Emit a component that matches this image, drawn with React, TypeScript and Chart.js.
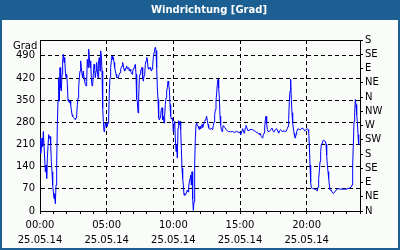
import React, { useEffect, useRef } from "react";
import { Chart, registerables } from "chart.js";

Chart.register(...registerables);

const TITLE = "Windrichtung [Grad]";
const UNIT = "Grad";
const TIME_LABELS = ["00:00", "05:00", "10:00", "15:00", "20:00"];
const DATE_LABEL = "25.05.14";
const COMPASS = ["N", "NE", "E", "SE", "S", "SW", "W", "NW", "N", "NE", "E", "SE", "S"];

// hours since 00:00 on 25.05.14
const HOURS = [
  0.0, 0.05, 0.1, 0.15, 0.2, 0.25, 0.3, 0.4, 0.45, 0.5, 0.55, 0.65, 0.7, 0.75, 0.8, 0.85, 0.9, 0.95,
  1.0, 1.05, 1.1, 1.15, 1.2, 1.25, 1.3, 1.35, 1.4, 1.45, 1.5, 1.55, 1.6, 1.65, 1.7, 1.75, 1.8, 1.85,
  1.9, 1.95, 2.0, 2.05, 2.1, 2.15, 2.2, 2.25, 2.3, 2.35, 2.4, 2.45, 2.5, 2.6, 2.65, 2.7, 2.75, 2.8,
  2.85, 2.9, 2.95, 3.0, 3.05, 3.1, 3.15, 3.2, 3.25, 3.3, 3.35, 3.4, 3.45, 3.5, 3.55, 3.6, 3.65, 3.7,
  3.75, 3.8, 3.85, 3.9, 3.95, 4.0, 4.05, 4.1, 4.15, 4.2, 4.25, 4.3, 4.35, 4.4, 4.45, 4.5, 4.55, 4.6,
  4.65, 4.7, 4.75, 4.8, 4.85, 4.9, 4.95, 5.0, 5.05, 5.1, 5.15, 5.2, 5.25, 5.3, 5.35, 5.4, 5.45, 5.5,
  5.55, 5.6, 5.65, 5.7, 5.75, 5.85, 5.9, 5.95, 6.0, 6.05, 6.1, 6.15, 6.2, 6.25, 6.3, 6.35, 6.45, 6.5,
  6.55, 6.65, 6.7, 6.75, 6.8, 6.85, 6.9, 6.95, 7.0, 7.05, 7.1, 7.15, 7.2, 7.25, 7.3, 7.35, 7.4, 7.45,
  7.5, 7.55, 7.6, 7.65, 7.7, 7.75, 7.8, 7.85, 7.9, 7.95, 8.0, 8.05, 8.1, 8.15, 8.25, 8.3, 8.35, 8.4,
  8.45, 8.5, 8.55, 8.6, 8.65, 8.7, 8.75, 8.8, 8.85, 8.9, 8.95, 9.0, 9.05, 9.1, 9.15, 9.2, 9.25, 9.3,
  9.35, 9.4, 9.45, 9.5, 9.55, 9.6, 9.65, 9.7, 9.75, 9.8, 9.85, 9.9, 9.95, 10.0, 10.05, 10.1, 10.15,
  10.2, 10.25, 10.3, 10.35, 10.4, 10.45, 10.5, 10.55, 10.6, 10.65, 10.7, 10.75, 10.8, 10.85, 10.9,
  11.0, 11.05, 11.1, 11.15, 11.2, 11.25, 11.3, 11.35, 11.4, 11.45, 11.5, 11.55, 11.6, 11.65, 11.7,
  11.75, 11.8, 11.85, 11.9, 11.95, 12.0, 12.05, 12.1, 12.15, 12.2, 12.25, 12.3, 12.35, 12.4, 12.45,
  12.5, 12.55, 12.6, 12.65, 12.75, 12.85, 12.95, 13.0, 13.05, 13.1, 13.15, 13.2, 13.25, 13.3, 13.35,
  13.4, 13.45, 13.5, 13.55, 13.6, 13.65, 13.7, 13.75, 13.85, 13.95, 14.05, 14.15, 14.3, 14.45, 14.6,
  14.75, 14.85, 15.0, 15.05, 15.1, 15.2, 15.3, 15.35, 15.4, 15.45, 15.5, 15.6, 15.75, 15.95, 16.15,
  16.35, 16.45, 16.5, 16.6, 16.7, 16.75, 16.8, 16.85, 16.9, 16.95, 17.0, 17.05, 17.1, 17.2, 17.3,
  17.4, 17.5, 17.55, 17.65, 17.75, 17.85, 17.9, 17.95, 18.05, 18.15, 18.3, 18.45, 18.55, 18.6, 18.65,
  18.7, 18.75, 18.8, 18.85, 18.9, 18.95, 19.0, 19.05, 19.1, 19.15, 19.2, 19.25, 19.35, 19.45, 19.55,
  19.65, 19.75, 19.85, 19.95, 20.05, 20.1, 20.15, 20.2, 20.25, 20.3, 20.35, 20.45, 20.6, 20.75, 20.8,
  20.85, 20.9, 20.95, 21.0, 21.05, 21.1, 21.15, 21.2, 21.25, 21.3, 21.4, 21.45, 21.5, 21.55, 21.6,
  21.65, 21.7, 21.75, 21.85, 21.9, 22.0, 22.1, 22.2, 22.35, 22.5, 22.65, 22.8, 22.95, 23.1, 23.25,
  23.35, 23.4, 23.45, 23.5, 23.55, 23.6, 23.65, 23.7, 23.75, 23.8, 23.85, 23.9,
];

// wind direction in degrees (continuous scale 0..540)
const DEGREES = [
  230, 182, 198, 230, 204, 251, 209, 124, 145, 103, 167, 241, 230, 235, 209, 156, 124, 82,
  60, 39, 55, 23, 82, 145, 273, 347, 421, 347, 453, 389, 379, 432, 474, 495, 469, 485,
  442, 421, 432, 400, 347, 352, 342, 347, 336, 320, 304, 299, 296, 292, 288, 294, 304, 336,
  357, 389, 421, 442, 474, 453, 432, 421, 442, 421, 410, 400, 395, 410, 479, 453, 511, 485,
  453, 474, 421, 395, 400, 432, 463, 448, 421, 442, 469, 442, 421, 474, 485, 442, 506, 490,
  442, 326, 283, 251, 262, 278, 267, 278, 267, 278, 294, 379, 421, 453, 474, 490, 479, 485,
  469, 453, 442, 432, 421, 421, 427, 432, 437, 448, 453, 458, 469, 458, 448, 442, 453, 458,
  448, 453, 442, 448, 442, 437, 432, 442, 448, 453, 458, 463, 432, 352, 347, 310, 357, 421,
  432, 442, 448, 453, 421, 410, 427, 432, 463, 474, 485, 479, 453, 448, 453, 448, 442, 448,
  458, 485, 501, 511, 517, 506, 453, 389, 352, 294, 288, 294, 304, 320, 326, 288, 299, 278,
  299, 336, 357, 379, 389, 410, 400, 384, 336, 300, 290, 294, 288, 251, 273, 283, 230,
  188, 209, 167, 262, 285, 273, 283, 257, 198, 135, 103, 82, 50, 55, 50,
  60, 66, 60, 76, 92, 103, 113, 82, 124, 39, 2, 29, 145, 230, 273,
  278, 270, 267, 262, 257, 267, 260, 267, 273, 264, 270, 278, 283, 288, 294,
  299, 285, 273, 262, 257, 262, 257, 270, 281, 304, 320, 347, 373, 400, 416,
  389, 357, 299, 273, 257, 251, 260, 270, 264, 258, 253, 251, 250, 251, 248,
  252, 249, 248, 241, 246, 260, 246, 251, 262, 270, 264, 253, 257, 257, 251,
  246, 241, 246, 235, 230, 241, 246, 262, 288, 299, 278, 257, 251, 251, 257,
  262, 251, 249, 257, 260, 251, 246, 253, 257, 251, 253, 251, 260, 267, 288,
  347, 379, 416, 352, 310, 278, 262, 246, 235, 230, 241, 251, 260, 257, 257,
  262, 260, 253, 257, 260, 257, 251, 209, 145, 92, 73, 71, 69, 66, 63,
  76, 103, 124, 156, 188, 209, 214, 220, 224, 222, 220, 211, 177, 145, 124,
  103, 82, 66, 66, 60, 55, 60, 66, 71, 69, 69, 69, 69, 71, 73,
  76, 82, 145, 209, 283, 310, 352, 336, 304, 283, 241, 209,
];

const FRAME_BLUE = "#1c5f93";
const PANEL_BG = "#f9fcf9";
const FONT = '"DejaVu Sans"';

const framePlugin = {
  id: "frame",
  beforeDraw(chart: any) {
    const { ctx, width, height } = chart;
    ctx.save();
    ctx.fillStyle = FRAME_BLUE;
    ctx.fillRect(0, 0, width, height);
    ctx.fillStyle = PANEL_BG;
    ctx.fillRect(2, 20, width - 4, height - 22);
    ctx.fillStyle = "#ffffff";
    ctx.font = `bold 10px ${FONT}`;
    ctx.textAlign = "center";
    ctx.textBaseline = "middle";
    ctx.fillText(TITLE, 209, 10.5);
    ctx.restore();
  },
  afterDraw(chart: any) {
    const { ctx, chartArea } = chart;
    ctx.save();
    ctx.strokeStyle = "#000";
    ctx.lineWidth = 1;
    ctx.beginPath();
    ctx.moveTo(chartArea.left, chartArea.top + 0.5);
    ctx.lineTo(chartArea.right + 1, chartArea.top + 0.5);
    ctx.stroke();
    ctx.fillStyle = "#000";
    ctx.font = `10px ${FONT}`;
    ctx.textAlign = "left";
    ctx.textBaseline = "middle";
    ctx.fillText(UNIT, 13, 46);
    ctx.restore();
  },
};

export default function App() {
  const ref = useRef<HTMLCanvasElement>(null);
  useEffect(() => {
    document.body.style.margin = "0";
    const points = HOURS.map((h, i) => ({ x: h, y: DEGREES[i] }));
    const chart = new Chart(ref.current as HTMLCanvasElement, {
      type: "line",
      data: {
        datasets: [
          {
            data: points,
            borderColor: "#0000ff",
            borderWidth: 1,
            pointRadius: 0,
            tension: 0,
            fill: false,
            xAxisID: "x",
            yAxisID: "y",
          },
        ],
      },
      options: {
        responsive: false,
        animation: false,
        devicePixelRatio: 1,
        layout: { padding: { top: 40, left: 0, right: 0, bottom: 0 } },
        plugins: { legend: { display: false }, tooltip: { enabled: false }, title: { display: false } },
        scales: {
          x: {
            type: "linear",
            min: 0,
            max: 24,
            afterFit: (s: any) => {
              s.height = 39;
            },
            ticks: {
              stepSize: 1,
              autoSkip: false,
              maxRotation: 0,
              minRotation: 0,
              color: "#000",
              padding: 4,
              font: { family: FONT, size: 10, lineHeight: 1.5 },
              callback: (v: any) => {
                const n = Number(v);
                if (n % 5 === 0 && n < 24) return [TIME_LABELS[n / 5], DATE_LABEL];
                return "";
              },
            },
            grid: {
              color: (c: any) => (c.tick && c.tick.value % 5 === 0 && c.tick.value < 24 ? "#000" : "rgba(0,0,0,0)"),
              tickColor: "#000",
              tickLength: 3,
              drawTicks: true,
              lineWidth: 1,
            },
            border: { display: true, color: "#000", width: 1, dash: [4, 3] },
          },
          y: {
            type: "linear",
            position: "left",
            min: 0,
            max: 540,
            afterFit: (s: any) => {
              s.width = 40;
            },
            ticks: {
              stepSize: 70,
              includeBounds: false,
              autoSkip: false,
              color: "#000",
              padding: 5,
              font: { family: FONT, size: 10 },
            },
            grid: { color: "#000", drawTicks: false, lineWidth: 1 },
            border: { display: true, color: "#000", width: 1, dash: [4, 3] },
          },
          y2: {
            type: "linear",
            position: "right",
            min: 0,
            max: 540,
            afterFit: (s: any) => {
              s.width = 40;
            },
            ticks: {
              stepSize: 45,
              autoSkip: false,
              color: "#000",
              padding: 2,
              font: { family: FONT, size: 10 },
              callback: (v: any) => COMPASS[Math.round(Number(v) / 45)] ?? "",
            },
            grid: { drawOnChartArea: false, tickColor: "#000", tickLength: 3, drawTicks: true },
            border: { display: true, color: "#000", width: 1 },
          },
        },
      },
      plugins: [framePlugin],
    } as any);
    return () => chart.destroy();
  }, []);
  return (
    <div style={{ width: 400, height: 250 }}>
      <canvas ref={ref} width={400} height={250} style={{ display: "block", width: 400, height: 250 }} />
    </div>
  );
}
